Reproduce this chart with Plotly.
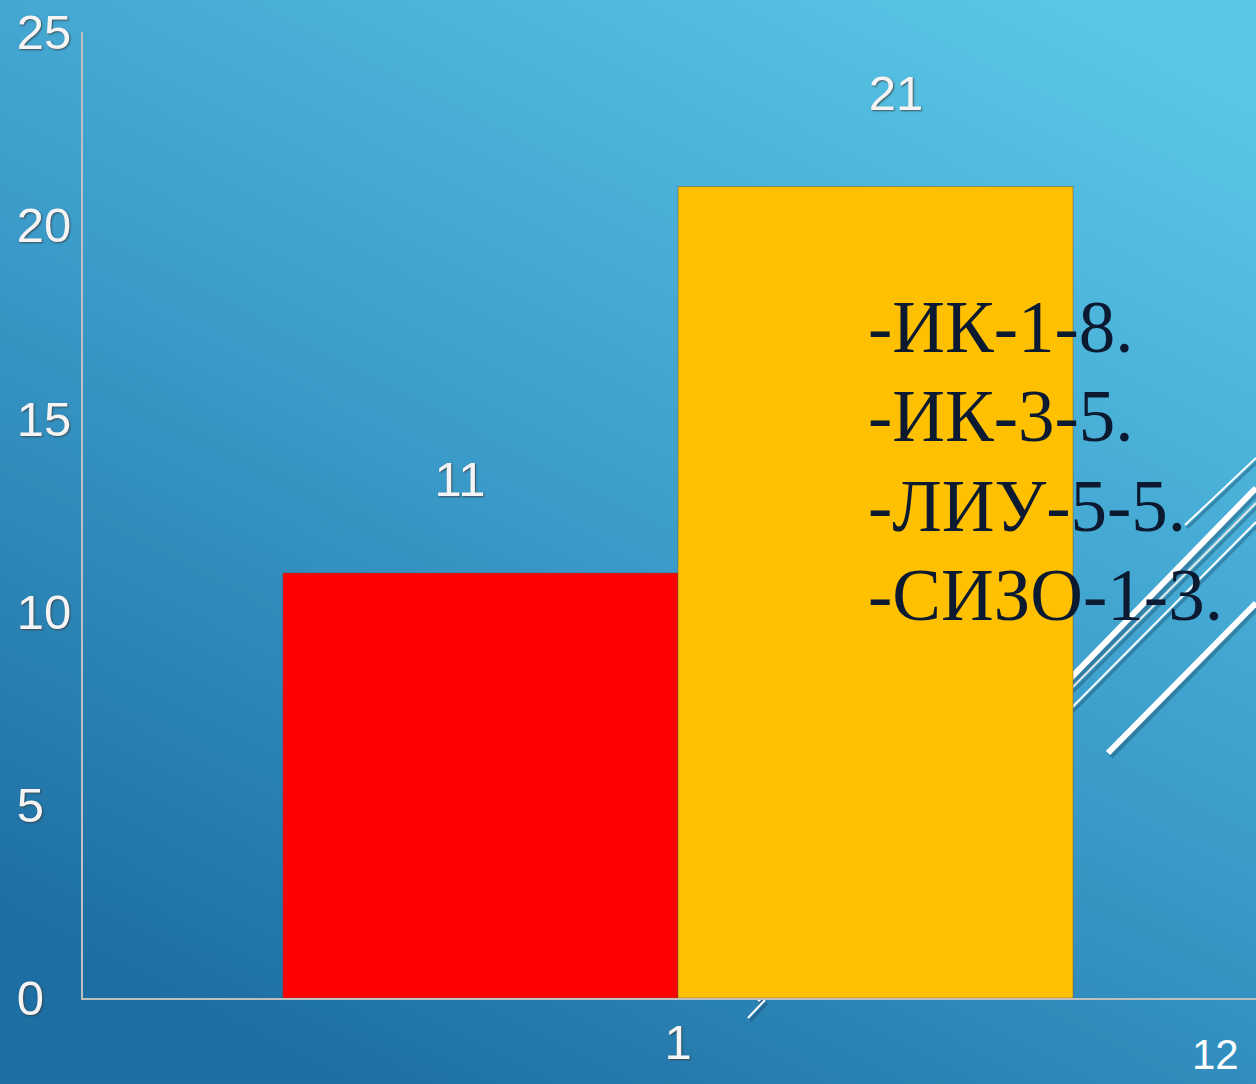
import base64
import plotly.graph_objects as go

# ---- data ----
categories = ["1"]
series_a = [11]
series_b = [21]
y_tick_vals = [0, 5, 10, 15, 20, 25]
y_tick_text = ["0\u00a0\u00a0", "5\u00a0\u00a0", "10", "15", "20", "25"]
note_lines = ["-ИК-1-8.", "-ИК-3-5.", "-ЛИУ-5-5.", "-СИЗО-1-3."]
page_number = "12"

W, H = 1256, 1084
ML, MR, MT, MB = 83, 0, 32, 86
PW, PH = W - ML - MR, H - MT - MB


def px(x):
    return (x - ML) / PW


def py(y):
    return (H - MB - y) / PH


# gradient background as inline svg
svg = f'''<svg xmlns="http://www.w3.org/2000/svg" width="{W}" height="{H}" viewBox="0 0 {W} {H}" preserveAspectRatio="none">
<defs><linearGradient id="g" x1="0.85" y1="0" x2="0.25" y2="1">
<stop offset="0" stop-color="#5AC7E7"/>
<stop offset="0.5" stop-color="#3C9DCB"/>
<stop offset="1" stop-color="#1D6EA2"/>
</linearGradient></defs>
<rect width="{W}" height="{H}" fill="url(#g)"/></svg>'''
bg_src = "data:image/svg+xml;base64," + base64.b64encode(svg.encode()).decode()

label_font = dict(family="Liberation Sans, Arial, sans-serif", size=49, color="#F4F4F4",
                  shadow="1px 1px 2px rgba(60,60,60,0.8)")
NB = "\u00a0"

fig = go.Figure()
fig.add_trace(go.Bar(x=categories, y=series_a, marker=dict(color="#FF0000", line=dict(color="rgba(90,90,90,0.5)", width=1)),
                     texttemplate="%{y}" + NB * 3 + "<br>" + NB, textposition="outside",
                     textfont=label_font, cliponaxis=False, showlegend=False))
fig.add_trace(go.Bar(x=categories, y=series_b, marker=dict(color="#FFC000", line=dict(color="rgba(90,90,90,0.5)", width=1)),
                     texttemplate=NB * 3 + "%{y}<br>" + NB, textposition="outside",
                     textfont=label_font, cliponaxis=False, showlegend=False))

# decorative diagonal lines (slide background)
deco = [
    ((1185, 525), (1256, 458), 2, "white"),
    ((757, 1000), (1256, 488), 6, "white"),
    ((1000, 760), (1256, 503), 2, "#E8E8E8"),
    ((1000, 780), (1256, 522), 2, "white"),
    ((748, 1018), (765, 1000), 2, "white"),
    ((1108, 753), (1256, 603), 6, "white"),
]
shapes = []
for (x0, y0), (x1, y1), w, c in deco:
    shapes.append(dict(type="line", xref="paper", yref="paper", x0=px(x0 + 2), y0=py(y0 + 3), x1=px(x1 + 2), y1=py(y1 + 3),
                       line=dict(color="rgba(20,60,90,0.35)", width=w + 1), layer="below"))
    shapes.append(dict(type="line", xref="paper", yref="paper", x0=px(x0), y0=py(y0), x1=px(x1), y1=py(y1),
                       line=dict(color=c, width=w), layer="below"))

line_centers = [327, 416, 506, 595]
annotations = [
    dict(text=t, xref="paper", yref="paper", x=px(866), y=py(yc),
         xanchor="left", yanchor="middle", align="left", showarrow=False,
         font=dict(family="Liberation Serif, Times New Roman, serif", size=73, color="#0B1A30"))
    for t, yc in zip(note_lines, line_centers)
]
annotations.append(
    dict(text=page_number, xref="paper", yref="paper", x=px(1241), y=py(1054),
         xanchor="right", yanchor="middle", showarrow=False,
         font=dict(family="Liberation Sans Narrow, Liberation Sans, Arial", size=42, color="white")))

fig.update_layout(
    width=W, height=H,
    margin=dict(l=ML, r=MR, t=MT, b=MB, pad=0),
    paper_bgcolor="rgba(0,0,0,0)", plot_bgcolor="rgba(0,0,0,0)",
    barmode="group", bargap=0.336, bargroupgap=0,
    images=[dict(source=bg_src, xref="paper", yref="paper", x=px(0), y=py(0),
                 sizex=W / PW, sizey=H / PH, xanchor="left", yanchor="top",
                 sizing="stretch", layer="below")],
    shapes=shapes, annotations=annotations,
    xaxis=dict(range=[-0.5, 0.5 * 578 / 595], showgrid=False, zeroline=False,
               showline=True, linecolor="#BFBFBF", linewidth=2, ticks="",
               tickfont=label_font, ticklabelstandoff=0),
    yaxis=dict(range=[0, 25], tickvals=y_tick_vals, ticktext=y_tick_text, showgrid=False,
               zeroline=False, showline=True, linecolor="#BFBFBF", linewidth=2, ticks="",
               tickfont=label_font, ticklabelstandoff=0),
)

fig.write_html("out.html", config={"displayModeBar": False},
               post_script="document.body.style.margin='0px';document.body.style.overflow='hidden';")
